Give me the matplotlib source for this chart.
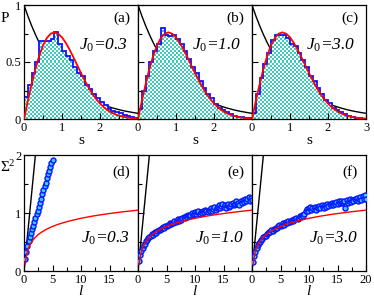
import numpy as np
import matplotlib
matplotlib.use('Agg')
import matplotlib.pyplot as plt
from matplotlib.ticker import MultipleLocator

plt.rcParams['font.family'] = ['Liberation Serif', 'DejaVu Serif']
plt.rcParams['mathtext.fontset'] = 'custom'
plt.rcParams['mathtext.rm'] = 'Liberation Serif'
plt.rcParams['mathtext.it'] = 'Liberation Serif:italic'

# ---- data: level spacing histograms, bin width 0.1 on [0, 3]
bin_edges = np.linspace(0, 3, 31)
hist_a = [0.19, 0.30, 0.40, 0.50, 0.68, 0.68, 0.68, 0.70, 0.76, 0.66,
          0.60, 0.55, 0.52, 0.46, 0.40, 0.38, 0.30, 0.26, 0.22, 0.18,
          0.15, 0.12, 0.09, 0.07, 0.06, 0.05, 0.035, 0.025, 0.02, 0.01]
hist_b = [0.09, 0.25, 0.38, 0.50, 0.60, 0.66, 0.80, 0.74, 0.73, 0.74,
          0.70, 0.66, 0.60, 0.53, 0.46, 0.40, 0.33, 0.27, 0.22, 0.18,
          0.13, 0.10, 0.08, 0.06, 0.04, 0.03, 0.02, 0.015, 0.01, 0.005]
hist_c = [0.05, 0.22, 0.36, 0.48, 0.58, 0.69, 0.74, 0.74, 0.74, 0.71,
          0.66, 0.64, 0.58, 0.52, 0.46, 0.38, 0.33, 0.27, 0.22, 0.17,
          0.14, 0.10, 0.08, 0.06, 0.04, 0.025, 0.015, 0.01, 0.005, 0.003]

# reference curves read on the grid s = 0, 0.1, ..., 3
s_grid = np.linspace(0, 3, 31)
poisson_p = [1.000, 0.905, 0.819, 0.741, 0.670, 0.607, 0.549, 0.497, 0.449, 0.407,
             0.368, 0.333, 0.301, 0.273, 0.247, 0.223, 0.202, 0.183, 0.165, 0.150,
             0.135, 0.122, 0.111, 0.100, 0.091, 0.082, 0.074, 0.067, 0.061, 0.055,
             0.050]
wigner_p = [0.000, 0.156, 0.305, 0.439, 0.554, 0.645, 0.710, 0.748, 0.760, 0.748,
            0.716, 0.668, 0.608, 0.542, 0.472, 0.403, 0.337, 0.276, 0.222, 0.175,
            0.136, 0.103, 0.077, 0.057, 0.041, 0.029, 0.020, 0.014, 0.009, 0.006,
            0.004]

# ---- data: number variance
l_d = np.linspace(0.2, 5.0, 25)
var_d = [0.20, 0.33, 0.43, 0.51, 0.59, 0.65, 0.72, 0.78, 0.85, 0.91,
         0.98, 1.04, 1.10, 1.17, 1.24, 1.32, 1.40, 1.46, 1.52, 1.60,
         1.67, 1.72, 1.80, 1.86, 1.92]
l_ef = np.linspace(0.2, 20, 100)
var_e = [0.17, 0.27, 0.35, 0.39, 0.45, 0.47, 0.52, 0.53, 0.57, 0.58,
         0.61, 0.63, 0.62, 0.66, 0.67, 0.66, 0.69, 0.71, 0.70, 0.73,
         0.74, 0.76, 0.75, 0.78, 0.77, 0.80, 0.79, 0.82, 0.81, 0.83,
         0.83, 0.86, 0.85, 0.87, 0.89, 0.86, 0.90, 0.88, 0.91, 0.93,
         0.92, 0.95, 0.93, 0.96, 0.94, 0.97, 1.00, 0.96, 0.99, 1.02,
         0.98, 1.01, 1.03, 0.99, 1.02, 1.00, 1.04, 1.01, 1.05, 1.03,
         1.02, 1.06, 1.04, 1.08, 1.03, 1.07, 1.10, 1.05, 1.09, 1.11,
         1.13, 1.08, 1.12, 1.15, 1.10, 1.14, 1.09, 1.13, 1.16, 1.11,
         1.12, 1.15, 1.18, 1.13, 1.16, 1.21, 1.15, 1.18, 1.14, 1.20,
         1.17, 1.22, 1.19, 1.25, 1.20, 1.24, 1.28, 1.21, 1.26, 1.23]
var_f = [0.16, 0.26, 0.33, 0.40, 0.44, 0.48, 0.50, 0.54, 0.55, 0.58,
         0.60, 0.61, 0.64, 0.65, 0.67, 0.68, 0.70, 0.69, 0.72, 0.73,
         0.75, 0.74, 0.77, 0.79, 0.78, 0.80, 0.82, 0.80, 0.83, 0.84,
         0.83, 0.86, 0.85, 0.87, 0.88, 0.87, 0.90, 0.89, 0.91, 0.90,
         0.92, 0.94, 0.93, 0.96, 0.95, 0.98, 1.04, 1.07, 1.03, 1.08,
         1.10, 1.05, 1.09, 1.07, 1.11, 1.06, 1.10, 1.08, 1.12, 1.09,
         1.13, 1.10, 1.08, 1.14, 1.11, 1.15, 1.12, 1.16, 1.13, 1.17,
         1.14, 1.18, 1.15, 1.19, 1.16, 1.20, 1.17, 1.21, 1.18, 1.19,
         1.20, 1.08, 1.22, 1.17, 1.21, 1.24, 1.19, 1.23, 1.20, 1.25,
         1.22, 1.26, 1.21, 1.24, 1.27, 1.23, 1.29, 1.25, 1.31, 1.24]

# reference number-variance curves
l_goe = [0.2, 0.25, 0.3, 0.4, 0.5, 0.6, 0.75, 1, 1.5, 2, 2.5, 3, 4, 5, 6, 7,
         8, 10, 12, 14, 16, 18, 20]
var_goe = [0.116, 0.161, 0.198, 0.256, 0.302, 0.339, 0.384, 0.442, 0.524,
           0.583, 0.628, 0.665, 0.723, 0.768, 0.805, 0.836, 0.863, 0.909,
           0.946, 0.977, 1.004, 1.028, 1.049]
l_poisson = [0, 2]
var_poisson = [0, 2]

panel_tags = ['(a)', '(b)', '(c)', '(d)', '(e)', '(f)']
j0_values = ['0.3', '1.0', '3.0']

W, H = 374, 300
fig = plt.figure(figsize=(W / 100, H / 100), dpi=100)

def px_axes(x0, y0, x1, y1):
    return fig.add_axes([x0 / W, 1 - y1 / H, (x1 - x0) / W, (y1 - y0) / H])

def style_axes(ax):
    ax.tick_params(which='both', direction='in', labelsize=9, pad=2, width=0.8)
    ax.tick_params(which='major', length=4)
    ax.tick_params(which='minor', length=3)
    for sp in ax.spines.values():
        sp.set_linewidth(0.9)

checker_teal = '#3ccbb9'
rows, cols = 57, 57
cb = (np.indices((rows, cols)).sum(axis=0) % 2).astype(float)
checker_rgb = np.ones((rows, cols, 3))
checker_rgb[cb == 1] = np.array(matplotlib.colors.to_rgb(checker_teal))

lefts = [24, 138, 252]
hists = [hist_a, hist_b, hist_c]
vars_ = [var_d, var_e, var_f]
ls_ = [l_d, l_ef, l_ef]

for i in range(3):
    x0 = lefts[i]
    j0_text = r'$J_0$' + '=' + j0_values[i]

    # ---- top row: spacing distribution
    ax = px_axes(x0, 5, x0 + 114, 119)
    ax.set_xlim(0, 3)
    ax.set_ylim(0, 1)
    # Poisson curve sits behind the histogram
    ax.plot(s_grid, poisson_p, color='black', lw=1.0, zorder=0.5)
    clip = ax.stairs(hists[i], bin_edges, fill=True, facecolor='none',
                     edgecolor='none', baseline=0)
    im = ax.imshow(checker_rgb, extent=(0, 3, 0, 1), origin='lower',
                   aspect='auto', interpolation='nearest', zorder=1)
    im.set_clip_path(clip)
    ax.stairs(hists[i], bin_edges, color='#1010ff', lw=1.3, baseline=0, zorder=2)
    ax.plot(s_grid, wigner_p, color='#ff0000', lw=1.3, zorder=4)
    ax.xaxis.set_minor_locator(MultipleLocator(0.5))
    ax.yaxis.set_minor_locator(MultipleLocator(0.25))
    ax.set_xticks([0, 1, 2, 3])
    ax.set_xticklabels(['0', '1', '2', '3'] if i == 2 else ['0', '1', '2', ''])
    ax.set_yticks([0, 0.5, 1])
    if i == 0:
        ax.set_yticklabels(['0', '0.5', '1'])
        ax.text(-0.17, 0.88, 'P', transform=ax.transAxes, fontsize=11,
                ha='center', va='center')
    else:
        ax.set_yticklabels([])
    ax.set_xlabel('s', fontsize=11, labelpad=0)
    ax.text(0.93, 0.885, panel_tags[i], transform=ax.transAxes, fontsize=11,
            ha='right', va='center')
    ax.text(0.91, 0.65, j0_text, transform=ax.transAxes, fontsize=12.5,
            fontstyle='italic', ha='right', va='center')
    style_axes(ax)

    # ---- bottom row: number variance
    ax = px_axes(x0, 155, x0 + 114, 271)
    ax.set_xlim(0, 20)
    ax.set_ylim(0, 2)
    ax.plot(l_poisson, var_poisson, color='black', lw=1.0, zorder=2)
    ax.plot(ls_[i], vars_[i], 'o', ms=3.6, mfc='#33ccff', mec='#0a14ff',
            mew=1.0, zorder=3)
    ax.plot(l_goe, var_goe, color='#ff0000', lw=1.0, zorder=4)
    ax.xaxis.set_minor_locator(MultipleLocator(2.5))
    ax.yaxis.set_minor_locator(MultipleLocator(0.5))
    ax.set_xticks([0, 5, 10, 15, 20])
    ax.set_xticklabels(['0', '5', '10', '15', '20'] if i == 2 else ['0', '5', '10', '15', ''])
    ax.set_yticks([0, 1, 2])
    if i == 0:
        ax.set_yticklabels(['0', '1', '2'])
        ax.text(-0.14, 0.9, r'$\Sigma^2$', transform=ax.transAxes, fontsize=11,
                ha='center', va='center')
    else:
        ax.set_yticklabels([])
    ax.set_xlabel(r'$l$', fontsize=11, labelpad=-1)
    ax.text(0.93, 0.855, panel_tags[3 + i], transform=ax.transAxes, fontsize=11,
            ha='right', va='center')
    ax.text(0.93, 0.28, j0_text, transform=ax.transAxes, fontsize=12.5,
            fontstyle='italic', ha='right', va='center')
    style_axes(ax)

fig.savefig('out.png', dpi=100)
